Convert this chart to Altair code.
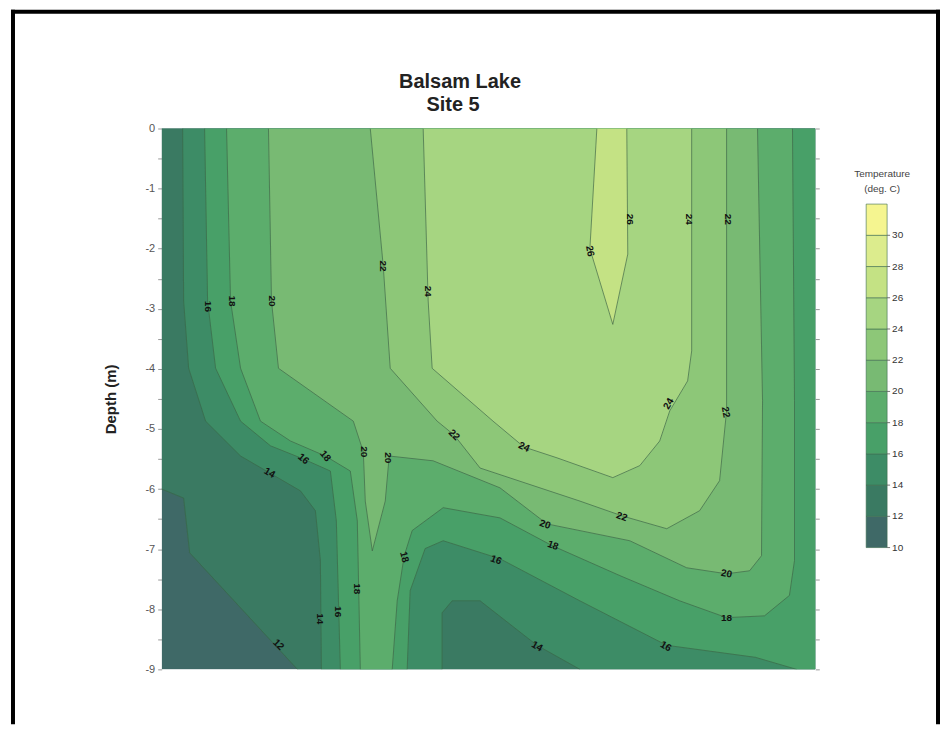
import altair as alt
import pandas as pd

BASE = pd.Timestamp("2010-05-01")
X_LO, X_HI = 8.0, 141.1          # plot edges, days after 2010-05-01
Y_LO, Y_HI = -9.0, 0.0

band_lo = [10, 12, 14, 16, 18, 20, 22, 24, 26, 28, 30]
band_colors = ["#3f6967", "#3a7a62", "#3d8c66", "#48a068", "#5cad6c", "#78ba73",
               "#8dc778", "#a6d581", "#c4e284", "#dcec8d", "#f5f590"]

# isolines: (days after 2010-05-01, depth in m)
iso12 = [(8.0, -6.0), (12.47, -6.15), (13.7, -7.06), (35.64, -9.0)]
iso14_left = [(12.27, 0.0), (12.47, -2.87), (13.49, -3.99), (16.94, -4.87), (24.06, -5.45),
              (29.95, -5.73), (36.25, -6.03), (39.3, -6.36), (40.32, -7.19), (40.52, -9.0)]
iso14_pocket = [(65.11, -9.0), (65.11, -8.06), (67.15, -7.86), (72.84, -7.86), (84.42, -8.6),
                (93.16, -9.0)]
iso16_left = [(16.74, 0.0), (17.35, -2.87), (18.98, -3.99), (24.06, -4.87), (30.15, -5.28),
              (36.86, -5.5), (42.35, -5.7), (43.57, -6.53), (44.38, -9.0)]
iso16_right = [(58.0, -9.0), (58.61, -7.69), (61.66, -6.99), (65.32, -6.86), (76.9, -7.16),
               (93.16, -7.86), (110.85, -8.6), (128.9, -8.8), (137.27, -9.0)]
iso18_left = [(21.21, 0.0), (22.02, -2.87), (24.06, -3.99), (28.12, -4.87), (34.22, -5.2),
              (41.33, -5.45), (46.41, -5.7), (47.84, -6.53), (48.45, -9.0)]
iso18_right = [(54.95, -9.0), (55.97, -7.86), (57.39, -7.11), (59.02, -6.69), (65.32, -6.31),
               (76.9, -6.48), (87.47, -6.94), (101.29, -7.44), (113.49, -7.86), (123.04, -8.14),
               (130.76, -8.11), (135.84, -7.77), (136.87, -7.19), (136.87, -4.53), (136.46, 0.0)]
iso20 = [(29.75, 0.0), (30.36, -2.87), (31.78, -3.99), (47.02, -4.87), (49.06, -5.38),
         (49.46, -6.2), (50.89, -7.03), (53.53, -6.2), (54.34, -5.45), (63.28, -5.53),
         (76.9, -5.98), (86.46, -6.58), (103.33, -6.86), (114.91, -7.31), (123.04, -7.41),
         (127.72, -7.36), (130.15, -7.11), (130.36, -4.53), (129.34, 0.0)]
iso22 = [(50.48, 0.0), (53.12, -2.29), (54.54, -3.99), (64.1, -4.87), (67.55, -5.1),
         (72.84, -5.65), (93.16, -6.2), (101.9, -6.45), (110.85, -6.66), (117.55, -6.36),
         (121.62, -5.86), (123.04, -4.7), (123.04, 0.0)]
iso24 = [(61.25, 0.0), (62.27, -2.87), (63.08, -3.99), (75.48, -4.87), (81.78, -5.3),
         (88.49, -5.48), (99.87, -5.81), (105.36, -5.61), (109.42, -5.2), (111.46, -4.7),
         (115.11, -4.2), (115.93, -3.7), (115.93, 0.0)]
iso26 = [(96.62, 0.0), (95.2, -2.0), (99.87, -3.26), (102.92, -2.09), (102.72, 0.0)]

# contour labels: (text, days after 2010-05-01, depth, angle)
contour_labels = [
    ("16", 17.5, -2.96, 90), ("18", 22.3, -2.87, 90), ("20", 30.4, -2.87, 90),
    ("22", 53.12, -2.29, 90), ("24", 62.27, -2.71, 90), ("26", 95.2, -2.04, 80),
    ("26", 103.33, -1.51, 90), ("24", 115.3, -1.51, 90), ("22", 123.25, -1.51, 90),
    ("24", 111.25, -4.58, 300), ("22", 122.84, -4.72, 80), ("22", 67.55, -5.10, 45),
    ("24", 81.78, -5.30, 25), ("14", 29.95, -5.73, 30), ("16", 36.86, -5.50, 40),
    ("18", 41.33, -5.45, 50), ("20", 49.26, -5.38, 90), ("20", 54.14, -5.48, 90),
    ("20", 86.05, -6.59, 20), ("22", 101.7, -6.46, 20), ("18", 87.67, -6.94, 20),
    ("16", 76.09, -7.18, 20), ("18", 57.39, -7.13, 75), ("18", 47.84, -7.66, 90),
    ("16", 43.98, -8.04, 90), ("14", 40.32, -8.16, 90), ("12", 31.78, -8.59, 45),
    ("14", 84.42, -8.62, 30), ("16", 110.65, -8.62, 30), ("20", 123.04, -7.41, 10),
    ("18", 123.04, -8.14, 0),
]

cbar_ticks = [10, 12, 14, 16, 18, 20, 22, 24, 26, 28, 30]

FONT = "Liberation Sans"


def ts(d):
    return (BASE + pd.Timedelta(days=d)).strftime("%Y-%m-%dT%H:%M:%S")


def dt(d):
    t = BASE + pd.Timedelta(days=d)
    return alt.DateTime(year=t.year, month=t.month, date=t.day, hours=t.hour, minutes=t.minute)


polys = [
    [(X_LO, Y_HI), (X_HI, Y_HI), (X_HI, Y_LO), (X_LO, Y_LO)],
    [(X_LO, Y_HI), (X_HI, Y_HI), (X_HI, Y_LO)] + iso12[::-1],
    iso14_left + iso14_pocket + [(X_HI, Y_LO), (X_HI, Y_HI)],
    iso16_left + iso16_right + [(X_HI, Y_LO), (X_HI, Y_HI)],
    iso18_left + iso18_right,
    iso20,
    iso22,
    iso24,
    iso26,
]
poly_colors = band_colors[:9]

xscale = alt.Scale(domain=[dt(X_LO), dt(X_HI)])
yscale = alt.Scale(domain=[Y_LO, Y_HI], nice=False, zero=False)

half_ticks = [v / 2 for v in range(-18, 1)]
month_ticks = [alt.DateTime(year=2010, month=m, date=1) for m in (6, 7, 8, 9)]

x_axis = alt.Axis(values=month_ticks, format="%-m/%-d/%y", title="Date", labelFont=FONT,
                  labelFontSize=12, labelColor="#555", tickSize=4, tickColor="#999",
                  domain=False, grid=False, titleFont=FONT, titleFontSize=11,
                  titleFontWeight="normal", titleColor="#555", titlePadding=5, labelPadding=3)
y_axis = alt.Axis(values=half_ticks, labelExpr="datum.value % 1 == 0 ? toString(datum.value) : ''",
                  title="Depth (m)", labelFont=FONT, labelFontSize=11, labelColor="#555",
                  tickSize=4, tickColor="#999", domain=False, grid=False, titleFont=FONT,
                  titleFontSize=15, titleFontWeight="bold", titleColor="#222",
                  titleX=-43, titleY=271, labelPadding=3, orient="left")
y_axis_r = alt.Axis(values=half_ticks, labels=False, title=None, tickSize=4, tickColor="#999",
                    domain=False, grid=False, orient="right")

layers = []
for i, (pts, col) in enumerate(zip(polys, poly_colors)):
    df = pd.DataFrame({"x": [ts(p[0]) for p in pts], "y": [p[1] for p in pts],
                       "o": list(range(len(pts)))})
    enc = dict(
        x=alt.X("x:T", scale=xscale, axis=x_axis if i == 0 else None),
        y=alt.Y("y:Q", scale=yscale, axis=y_axis if i == 0 else None),
        order=alt.Order("o:Q"),
    )
    layers.append(alt.Chart(df).mark_line(fill=col, stroke=col, strokeWidth=0.6,
                                          interpolate="linear", clip=True).encode(**enc))

iso_pieces = [iso12, iso14_left, iso14_pocket, iso16_left, iso16_right, iso18_left,
              iso18_right, iso20, iso22, iso24, iso26]
rows = []
for k, piece in enumerate(iso_pieces):
    for j, p in enumerate(piece):
        rows.append({"id": k, "o": j, "x": ts(p[0]), "y": p[1]})
iso_df = pd.DataFrame(rows)
layers.append(
    alt.Chart(iso_df).mark_line(stroke="#3a6347", strokeWidth=0.8, opacity=0.85, clip=True)
    .encode(x=alt.X("x:T", scale=xscale, axis=None),
            y=alt.Y("y:Q", scale=yscale, axis=y_axis_r),
            detail="id:N", order=alt.Order("o:Q"))
)

lab_df = pd.DataFrame({"t": [l[0] for l in contour_labels],
                       "x": [ts(l[1]) for l in contour_labels],
                       "y": [l[2] for l in contour_labels],
                       "a": [l[3] for l in contour_labels]})
layers.append(
    alt.Chart(lab_df).mark_text(font=FONT, fontSize=10, fontWeight="bold", color="#111",
                                baseline="middle", align="center")
    .encode(x=alt.X("x:T", scale=xscale, axis=None), y=alt.Y("y:Q", scale=yscale, axis=None),
            text="t:N", angle=alt.Angle("a:Q", scale=None))
)

one = alt.Data(values=[{}])
frame = [
    alt.Chart(one).mark_rule(color="black", strokeWidth=4, strokeCap="square")
    .encode(x=alt.value(-149), y=alt.value(-117), y2=alt.value(595)),
    alt.Chart(one).mark_rule(color="black", strokeWidth=4, strokeCap="square")
    .encode(x=alt.value(-149), x2=alt.value(778), y=alt.value(-117)),
    alt.Chart(one).mark_rule(color="black", strokeWidth=4, strokeCap="square")
    .encode(x=alt.value(778), y=alt.value(-117), y2=alt.value(595)),
]
titles = [
    alt.Chart(one).mark_text(text="Balsam Lake", font=FONT, fontSize=20, fontWeight="bold",
                             color="#222", align="center", baseline="alphabetic")
    .encode(x=alt.value(299), y=alt.value(-41)),
    alt.Chart(one).mark_text(text="Site 5", font=FONT, fontSize=20, fontWeight="bold",
                             color="#222", align="center", baseline="alphabetic")
    .encode(x=alt.value(292), y=alt.value(-18)),
]

main = alt.layer(*layers, *frame, *titles)

# colour bar (legend), drawn on its own temperature scale
cb_df = pd.DataFrame({"lo": band_lo, "hi": [b + 2 for b in band_lo], "c": band_colors})
cb_scale = alt.Scale(domain=[2.2, 36.84], nice=False, zero=False)
cb_rect = alt.Chart(cb_df).mark_rect(stroke="#3d6b4f", strokeWidth=0.6).encode(
    x=alt.value(706), x2=alt.value(727),
    y=alt.Y("lo:Q", scale=cb_scale, axis=None), y2="hi:Q",
    fill=alt.Fill("c:N", scale=None))
tick_df = pd.DataFrame({"v": cbar_ticks, "t": [str(v) for v in cbar_ticks]})
cb_ticks = alt.Chart(tick_df).mark_rule(color="#555", strokeWidth=0.8).encode(
    x=alt.value(727), x2=alt.value(730), y=alt.Y("v:Q", scale=cb_scale, axis=None))
cb_labels = alt.Chart(tick_df).mark_text(font=FONT, fontSize=10, color="#333", align="left",
                                         baseline="middle").encode(
    x=alt.value(732), y=alt.Y("v:Q", scale=cb_scale, axis=None), text="t:N")
cb_title_df = pd.DataFrame({"t": ["Temperature", "(deg. C)"], "v": [33.9, 32.94]})
cb_title = alt.Chart(cb_title_df).mark_text(font=FONT, fontSize=10, color="#444",
                                            align="center", baseline="middle").encode(
    x=alt.value(722), y=alt.Y("v:Q", scale=cb_scale, axis=None), text="t:N")
cbar = alt.layer(cb_rect, cb_ticks, cb_labels, cb_title)

chart = alt.layer(main, cbar).resolve_scale(y="independent").properties(
    width=655, height=542, padding={"left": 2, "top": 0, "right": 0, "bottom": 0}
).configure_view(stroke=None)

chart.save("out.html", embed_options={"renderer": "svg", "actions": False})
